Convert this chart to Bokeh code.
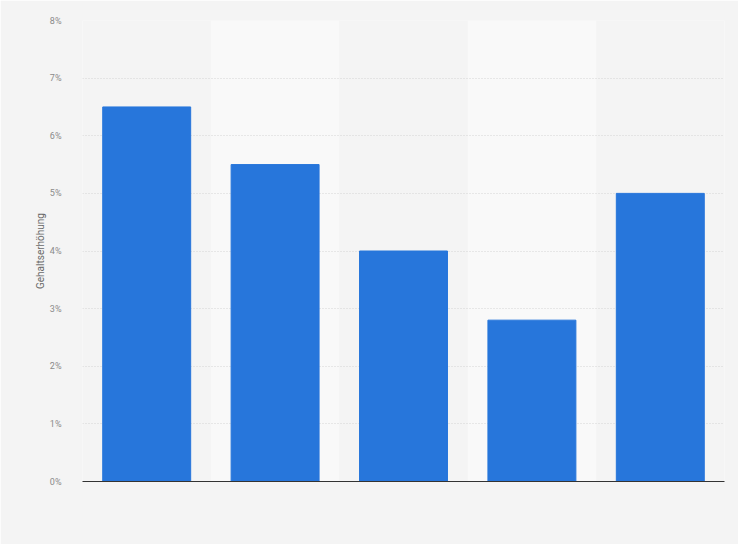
from bokeh.plotting import figure
from bokeh.models import Range1d, FixedTicker, CustomJSTickFormatter
from bokeh.embed import file_html
from bokeh.resources import INLINE

categories = ["Kategorie 1", "Kategorie 2", "Kategorie 3", "Kategorie 4", "Kategorie 5"]
values = [6.5, 5.5, 4.0, 2.8, 5.0]
y_ticks = [0, 1, 2, 3, 4, 5, 6, 7, 8]
y_label = "Gehaltserhöhung"

BG = "#f4f4f4"
BAND = "#f9f9f9"
BAR = "#2776db"

p = figure(x_range=categories, y_range=Range1d(0, 8), width=738, height=544,
           output_backend="svg", toolbar_location=None,
           min_border_left=82, min_border_right=14, min_border_top=20, min_border_bottom=63)
p.background_fill_color = BG
p.border_fill_color = BG
p.outline_line_color = None

# alternating background bands
bands = categories[1::2]
p.vbar(x=bands, top=[8] * len(bands), bottom=0, width=1.0, fill_color=BAND, line_color=None, level="underlay")

p.vbar(x=categories, top=values, width=0.685, fill_color=BAR, line_color=BAR)

p.xgrid.grid_line_color = None
p.ygrid.grid_line_color = "#d4d4d4"
p.ygrid.grid_line_dash = "1 2"
p.ygrid.ticker = FixedTicker(ticks=y_ticks)

p.yaxis.ticker = FixedTicker(ticks=y_ticks)
p.yaxis.formatter = CustomJSTickFormatter(code="return tick + '%';")
p.yaxis.axis_line_color = None
p.yaxis.major_tick_line_color = None
p.yaxis.minor_tick_line_color = None
p.yaxis.major_label_text_color = "#8a8a8a"
p.yaxis.major_label_text_font = "Roboto"
p.yaxis.major_label_text_font_size = "9px"
p.yaxis.major_label_standoff = 15
p.yaxis.axis_label = y_label
p.yaxis.axis_label_text_font = "Roboto"
p.yaxis.axis_label_text_font_style = "normal"
p.yaxis.axis_label_text_font_size = "10px"
p.yaxis.axis_label_text_color = "#6a6a6a"
p.yaxis.axis_label_standoff = 1

p.xaxis.axis_line_color = "#333333"
p.xaxis.axis_line_width = 1
p.xaxis.major_tick_line_color = None
p.xaxis.minor_tick_line_color = None
p.xaxis.major_label_text_color = None
p.xaxis.major_label_text_font_size = "9px"

html = file_html(p, INLINE)
html = html.replace("<body>", '<body style="background:%s">' % BG, 1)
open("out.html", "w").write(html)
